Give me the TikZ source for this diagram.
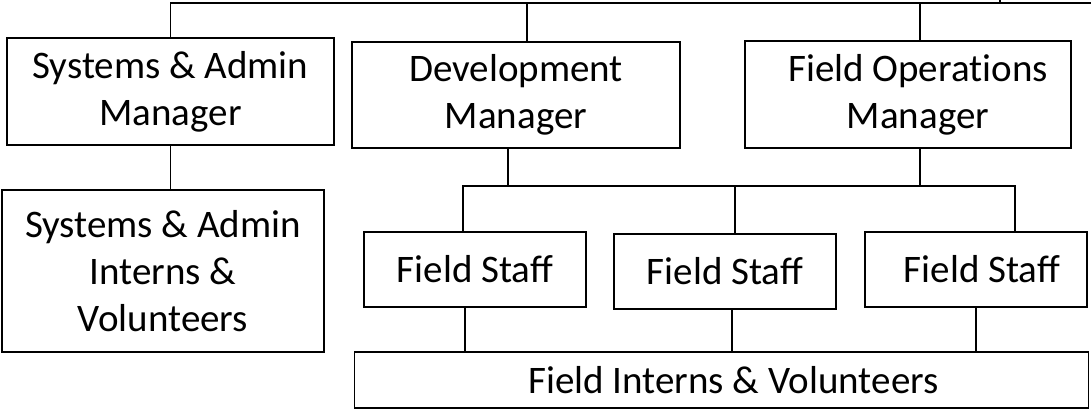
\documentclass[tikz,border=0pt]{standalone}
\usepackage{fontspec}
\setmainfont{Carlito}
\tikzset{
  unit/.style={draw,line width=1.6pt,rectangle,inner sep=0pt,align=center,
    font=\fontsize{39}{47}\selectfont},
  link/.style={line width=1.2pt}
}
\begin{document}
\begin{tikzpicture}[x=1pt,y=-1pt]
\useasboundingbox (0,0) rectangle (1091,409);

\node [unit,minimum width=327pt,minimum height=107pt] at (170.5,91.5) (sam) {Systems \& Admin\\Manager};
\node [unit,minimum width=328pt,minimum height=106pt] at (516,95) (dev) {Development\\Manager};
\node [unit,minimum width=326pt,minimum height=107pt] at (908,94.5) (fom) {\hspace*{20pt}Field Operat\kern0pt ions\\\hspace*{20pt}Manager};
\node [unit,minimum width=322pt,minimum height=162pt] at (163,271) (sai) {Systems \& Admin\\Interns \&\\Volunteers};

\node [unit,minimum width=222pt,minimum height=75pt] at (475,269.5) (fs1) {Field Staff};
\node [unit,minimum width=222pt,minimum height=75pt] at (725,271.5) (fs2) {Field Staff};
\node [unit,minimum width=222pt,minimum height=75pt] at (976,269.5) (fs3) {\hspace*{12pt}Field Staff};
\node [unit,minimum width=734pt,minimum height=56pt] at (721.5,380) (fiv) {\hspace*{24pt}Field Interns \& Volunteers};

% top bus
\coordinate (topend) at (1091,3);
\coordinate (stub) at (1000,0);
\coordinate (devtop) at ([xshift=11pt]dev.north);
\coordinate (fomtop) at ([xshift=12pt]fom.north);
\draw [link] (sam.north) -- (sam.north |- topend) -- (topend);
\draw [link] (devtop) -- (devtop |- topend);
\draw [link] (fomtop) -- (fomtop |- topend);
\draw [link] (stub) -- (stub |- topend);

\draw [link] (sam.south) -- (sam.south |- sai.north);

% field bus
\coordinate (fbus) at (0,186);
\coordinate (devbot) at ([xshift=-8pt]dev.south);
\coordinate (fombot) at ([xshift=12pt]fom.south);
\coordinate (fs1top) at ([xshift=-12pt]fs1.north);
\coordinate (fs2top) at ([xshift=10pt]fs2.north);
\coordinate (fs3top) at ([xshift=39pt]fs3.north);
\draw [link] (devbot) -- (devbot |- fbus);
\draw [link] (fombot) -- (fombot |- fbus);
\draw [link] (fs1top) -- (fs1top |- fbus) -- (fs3top |- fbus) -- (fs3top);
\draw [link] (fs2top) -- (fs2top |- fbus);

% down to interns
\coordinate (fs1bot) at ([xshift=-10pt]fs1.south);
\coordinate (fs2bot) at ([xshift=7pt]fs2.south);
\draw [link] (fs1bot) -- (fs1bot |- fiv.north);
\draw [link] (fs2bot) -- (fs2bot |- fiv.north);
\draw [link] (fs3.south) -- (fs3.south |- fiv.north);

\end{tikzpicture}
\end{document}
